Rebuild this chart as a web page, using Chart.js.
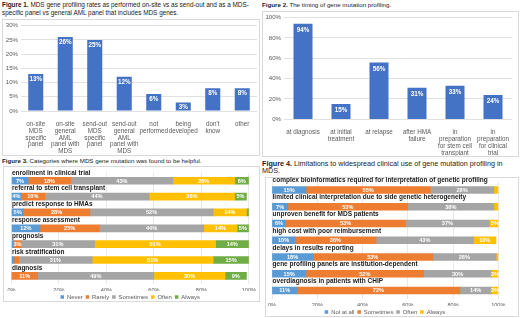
<!DOCTYPE html>
<html><head><meta charset="utf-8">
<script src="https://cdn.jsdelivr.net/npm/chart.js@4/dist/chart.umd.min.js"></script>
<style>
html,body{margin:0;padding:0;background:#fff;}
body{width:520px;height:318px;position:relative;overflow:hidden;font-family:'Liberation Sans',Arial,sans-serif;color:#222;}
.title{position:absolute;font-size:6.2px;line-height:7.6px;white-space:nowrap;}
.box{position:absolute;border:1px solid #d9d9d9;box-sizing:border-box;}
canvas{position:absolute;}
</style></head>
<body>
<div class="title" style="left:2px;top:1px;font-size:6.4px;line-height:8px;"><b>Figure 1.</b> MDS gene profiling rates as performed on-site vs as send-out and as a MDS-<br>specific panel vs general AML panel that includes MDS genes.</div>
<div class="title" style="left:262px;top:1px;"><b>Figure 2.</b> The timing of gene mutation profiling.</div>
<div class="title" style="left:2px;top:157px;"><b>Figure 3.</b> Categories where MDS gene mutation was found to be helpful.</div>
<div class="title" style="left:262px;top:160px;font-size:7.2px;line-height:7.4px;"><b>Figure 4.</b> Limitations to widespread clinical use of gene mutation profiling in<br>MDS.</div>

<div class="box" style="left:2px;top:19px;width:258px;height:137px;"></div>
<div class="box" style="left:262px;top:11px;width:257px;height:146px;"></div>
<div class="box" style="left:3px;top:166px;width:257px;height:136px;"></div>
<div class="box" style="left:265px;top:177px;width:254px;height:140px;"></div>

<canvas id="c1" width="257" height="136" style="left:2px;top:19px;"></canvas>
<canvas id="c2" width="256" height="145" style="left:262px;top:11px;"></canvas>
<canvas id="c3" width="256" height="144" style="left:3px;top:166px;"></canvas>
<canvas id="c4" width="253" height="148" style="left:265px;top:177px;"></canvas>

<script>
const FONT = "'Liberation Sans', Arial, sans-serif";

// ---- Figure 1 data ----
const fig1Categories = [
  ["on-site","MDS","specific","panel"],
  ["on-site","general","AML","panel with","MDS","genes"],
  ["send-out","MDS","specific","panel"],
  ["send-out","general","AML","panel with","MDS","genes"],
  ["not","performed"],
  ["being","developed"],
  ["don't","know"],
  ["other"]
];
const fig1Values = [13, 26, 25, 12, 6, 3, 8, 8];

// ---- Figure 2 data ----
const fig2Categories = [
  ["at diagnosis"],
  ["at initial","treatment"],
  ["at relapse"],
  ["after HMA","failure"],
  ["in","preparation","for stem cell","transplant"],
  ["in","preparation","for clinical","trial"]
];
const fig2Values = [94, 15, 56, 31, 33, 24];

// ---- Figure 3 data ----
const fig3Categories = [
  "enrollment in clinical trial",
  "referral to stem cell transplant",
  "predict response to HMAs",
  "response assessment",
  "prognosis",
  "risk stratification",
  "diagnosis"
];
const fig3Never     = [7, 4, 5, 12, 1, 1, 0];
const fig3Rarely    = [18, 10, 28, 25, 3, 2, 11];
const fig3Sometimes = [43, 44, 52, 44, 31, 31, 49];
const fig3Often     = [26, 36, 14, 14, 51, 51, 30];
const fig3Always    = [6, 5, 1, 5, 14, 15, 9];

// ---- Figure 4 data ----
const fig4Categories = [
  "complex bioinformatics required for interpretation of genetic profiling",
  "limited clinical interpretation due to side genetic heterogeneity",
  "unproven benefit for MDS patients",
  "high cost with poor reimbursement",
  "delays in results reporting",
  "gene profiling panels are institution-dependent",
  "overdiagnosis in patients with CHIP"
];
const fig4NotAtAll   = [15, 7, 6, 10, 18, 15, 11];
const fig4Sometimes  = [55, 53, 53, 36, 53, 52, 72];
const fig4Often      = [28, 38, 37, 43, 28, 30, 14];
const fig4Always     = [2, 2, 5, 10, 1, 3, 3];

const pctTicks = [0, 20, 40, 60, 80, 100];

const C_BAR = '#4472C4';
const C_BLUE = '#5B9BD5', C_ORANGE = '#ED7D31', C_GREY = '#A5A5A5', C_YELLOW = '#FFC000', C_GREEN = '#70AD47';
const TICK_COLOR = '#595959';
const GRID = '#d9d9d9';

const barTopLabels = {
  id: 'barTopLabels',
  afterDatasetsDraw(chart, args, opts) {
    const ctx = chart.ctx;
    const meta = chart.getDatasetMeta(0);
    const data = chart.data.datasets[0].data;
    ctx.save();
    ctx.font = `bold ${opts.size}px ${FONT}`;
    ctx.fillStyle = '#ffffff';
    ctx.textAlign = 'center';
    ctx.textBaseline = 'middle';
    meta.data.forEach((bar, i) => {
      ctx.fillText(data[i] + '%', bar.x, bar.y + opts.offset);
    });
    ctx.restore();
  }
};

const stackLabels = {
  id: 'stackLabels',
  afterDatasetsDraw(chart, args, opts) {
    const ctx = chart.ctx;
    ctx.save();
    ctx.font = `bold ${opts.size}px ${FONT}`;
    ctx.textAlign = 'center';
    ctx.textBaseline = 'middle';
    ctx.fillStyle = '#ffffff';
    chart.data.datasets.forEach((ds, di) => {
      const meta = chart.getDatasetMeta(di);
      meta.data.forEach((bar, i) => {
        const v = ds.data[i];
        if (v >= 3) ctx.fillText(v + '%', (bar.x + bar.base) / 2, bar.y + 0.3);
      });
    });
    ctx.font = `bold ${opts.catSize}px ${FONT}`;
    ctx.textAlign = 'left';
    ctx.fillStyle = '#1a1a1a';
    const ys = chart.scales.y;
    chart.data.labels.forEach((lab, i) => {
      ctx.fillText(lab, chart.chartArea.left + opts.catDx, ys.getPixelForValue(i) - opts.catDy);
    });
    ctx.restore();
  }
};

function verticalBar(id, labels, values, max, step, pad, yW, xH, barPct, labelOffset) {
  new Chart(document.getElementById(id), {
    type: 'bar',
    data: { labels: labels, datasets: [{ data: values, backgroundColor: C_BAR, categoryPercentage: 1, barPercentage: barPct }] },
    options: {
      responsive: false, animation: false, devicePixelRatio: 1,
      layout: { padding: pad },
      plugins: { legend: { display: false }, tooltip: { enabled: false }, barTopLabels: { size: 6.3, offset: labelOffset } },
      scales: {
        x: {
          grid: { display: false }, border: { display: false },
          ticks: { font: { size: 6.3, family: FONT, lineHeight: 1.07 }, color: TICK_COLOR, padding: 2, maxRotation: 0, minRotation: 0, autoSkip: false },
          afterFit(s) { s.height = xH; }
        },
        y: {
          min: 0, max: max,
          ticks: { stepSize: step, callback: v => v + '%', font: { size: 6.1, family: FONT }, color: TICK_COLOR, padding: 3 },
          grid: { color: GRID, drawTicks: false, lineWidth: 0.8 }, border: { display: false },
          afterFit(s) { s.width = yW; }
        }
      }
    },
    plugins: [barTopLabels]
  });
}

verticalBar('c1', fig1Categories, fig1Values, 30, 5, { top: 6, right: 2, left: 0, bottom: 0 }, 19, 44, 0.51, 5);
verticalBar('c2', fig2Categories, fig2Values, 100, 10, { top: 5.7, right: 6, left: 0, bottom: 0 }, 22, 36.7, 0.5, 6.5);

function stackedBar(id, labels, series, names, colors, pad, xH, barT, catDy, legendSize) {
  new Chart(document.getElementById(id), {
    type: 'bar',
    data: {
      labels: labels,
      datasets: series.map((s, i) => ({ label: names[i], data: s, backgroundColor: colors[i], barThickness: barT }))
    },
    options: {
      indexAxis: 'y',
      responsive: false, animation: false, devicePixelRatio: 1,
      layout: { padding: pad },
      plugins: {
        tooltip: { enabled: false },
        legend: {
          position: 'bottom',
          labels: { font: { size: legendSize, family: FONT }, color: TICK_COLOR, boxWidth: 3.5, boxHeight: 3.5, padding: 3 }
        },
        stackLabels: { size: 5.6, catSize: 6.5, catDx: 0.5, catDy: catDy }
      },
      scales: {
        x: {
          stacked: true, min: 0, max: 100,
          afterBuildTicks(s) { s.ticks = pctTicks.map(v => ({ value: v })); },
          ticks: { callback: v => v + '%', font: { size: 5.6, family: FONT }, color: TICK_COLOR, padding: 3 },
          grid: { color: '#e3e3e3', drawTicks: false, lineWidth: 0.8 }, border: { display: false },
          afterFit(s) { s.height = xH; }
        },
        y: { stacked: true, display: false }
      }
    },
    plugins: [stackLabels]
  });
}

stackedBar('c3', fig3Categories,
  [fig3Never, fig3Rarely, fig3Sometimes, fig3Often, fig3Always],
  ['Never', 'Rarely', 'Sometimes', 'Often', 'Always'],
  [C_BLUE, C_ORANGE, C_GREY, C_YELLOW, C_GREEN],
  { top: 6.8, right: 10, left: 8.5, bottom: 0 }, 7.3, 7, 8, 5.9);

stackedBar('c4', fig4Categories,
  [fig4NotAtAll, fig4Sometimes, fig4Often, fig4Always],
  ['Not at all', 'Sometimes', 'Often', 'Always'],
  [C_BLUE, C_ORANGE, C_GREY, C_YELLOW],
  { top: 4.6, right: 19.7, left: 6.7, bottom: 0 }, 7.2, 6.7, 9.3, 5.9);
</script>
</body></html>
